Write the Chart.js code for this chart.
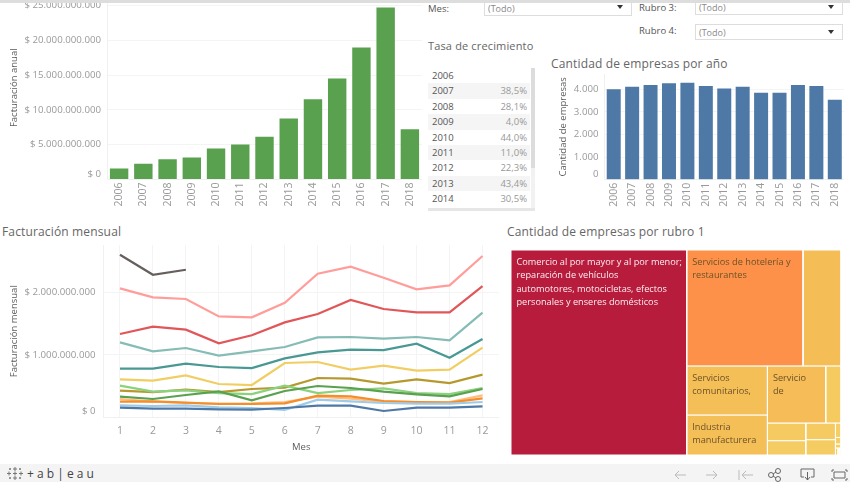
<!DOCTYPE html>
<html>
<head>
<meta charset="utf-8">
<script src="https://cdn.jsdelivr.net/npm/chart.js@4/dist/chart.umd.min.js"></script>
<style>
  html, body { margin: 0; padding: 0; background: #fff; overflow: hidden; }
  body { width: 850px; height: 482px; position: relative; font-family: 'Open Sans', sans-serif; }
  canvas, .abs { position: absolute; }
  .title { font-size: 12px; color: #666; white-space: nowrap; letter-spacing: .15px; }
  .flabel { font-size: 9.5px; color: #555; }
  .fbox { border: 1px solid #ddd; box-sizing: border-box; font-size: 9px; color: #888; padding-left: 3px; background: #fff; }
  .fbox::after { content: ''; position: absolute; right: 8px; top: 5px; border: 3px solid transparent; border-top: 4px solid #333; }
  #topband { left: 0; top: 0; width: 850px; height: 3px; background: #ddd; z-index: 3; }
  #tasa { left: 428px; top: 68px; width: 102px; font-size: 9.5px; }
  #tasa div { height: 15.4px; line-height: 15.4px; display: flex; justify-content: space-between; padding: 0 3px 0 4px; color: #555; }
  #tasa div:nth-child(even) { background: #f5f5f5; }
  #tasa span:last-child { color: #999; }
  #footer { left: 0; top: 464px; width: 850px; height: 18px; background: #f4f4f4; }
</style>
</head>
<body>
<div class="abs" id="topband"></div>

<div class="abs flabel" style="left:428px;top:2px">Mes:</div>
<div class="abs fbox" style="left:484px;top:-1px;width:148px;height:17px;line-height:17px">(Todo)</div>
<div class="abs flabel" style="left:639px;top:1px">Rubro 3:</div>
<div class="abs fbox" style="left:695px;top:-1px;width:148px;height:16px;line-height:16px">(Todo)</div>
<div class="abs flabel" style="left:639px;top:24px">Rubro 4:</div>
<div class="abs fbox" style="left:695px;top:24px;width:148px;height:16px;line-height:15px">(Todo)</div>

<div class="abs title" style="left:428px;top:38px;font-size:11px">Tasa de crecimiento</div>
<div class="abs title" style="left:551px;top:55px">Cantidad de empresas por año</div>
<div class="abs title" style="left:2px;top:223px">Facturación mensual</div>
<div class="abs title" style="left:507px;top:223px">Cantidad de empresas por rubro 1</div>

<div class="abs" id="tasa"></div>
<div class="abs" style="left:531px;top:68px;width:4px;height:142px;background:#f2f2f2"></div>
<div class="abs" style="left:531px;top:68px;width:4px;height:100px;background:#dcdcdc"></div>
<div class="abs" style="left:428px;top:208px;width:107px;height:3px;background:#e6e6e6"></div>

<canvas id="anualChart" width="422" height="219" style="left:0;top:-4px"></canvas>
<canvas id="empresasChart" width="294" height="141" style="left:550px;top:74px"></canvas>
<canvas id="mensualChart" width="499" height="215" style="left:0;top:245px"></canvas>
<canvas id="rubroChart" width="330" height="205" style="left:511px;top:250px"></canvas>

<div class="abs" id="footer">
  <svg class="abs" style="left:7px;top:2px" width="16" height="15" stroke="#777" stroke-width="1" fill="none">
    <path d="M8 1v4M6 3h4M8 10v4M6 12h4M2 5.500v4M0 7.500h4M14 5.500v4M12 7.500h4M8 5.500v4M6 7.500h4M3 2v2M2 3h2M13 2v2M12 3h2M3 11v2M2 12h2M13 11v2M12 12h2"/>
  </svg>
  <div class="abs" style="left:27px;top:1px;font-size:12px;color:#444;white-space:nowrap">+ a b | e a u</div>
  <svg class="abs" style="left:670px;top:0" width="178" height="18" fill="none" stroke="#bbb" stroke-width="1">
    <path d="M5 11h11M5 11l4-4M5 11l4 4"/>
    <path d="M36 11h11M47 11l-4-4M47 11l-4 4"/>
    <path d="M69 6v10M72 11h11M72 11l4-4M72 11l4 4"/>
    <g stroke="#666">
      <circle cx="101" cy="11" r="2.500"/><circle cx="108" cy="7" r="2.500"/><circle cx="108" cy="15" r="2.500"/>
      <path d="M103 10l3-2M103 12l3 2"/>
      <path d="M134 13h-3V5h13v8h-3M137.500 8v8M135 13l2.500 3 2.500-3"/>
      <path d="M164 6h-2v2M175 6h2v2M164 16h-2v-2M175 16h2v-2M164 8h11v6h-11z"/>
    </g>
  </svg>
</div>

<script>
Chart.defaults.font.family = "'Open Sans', sans-serif";
Chart.defaults.animation = false;
Chart.defaults.plugins.legend.display = false;
Chart.defaults.plugins.tooltip.enabled = false;

const YEARS = ['2006','2007','2008','2009','2010','2011','2012','2013','2014','2015','2016','2017','2018'];
const MONTHS = ['1','2','3','4','5','6','7','8','9','10','11','12'];

// millones de pesos
const ANUAL = [1580,2250,2920,3160,4450,5020,6120,8760,11530,14500,18950,24700,7220];
const ANUAL_TICKS = [0,5000,10000,15000,20000,25000];
const EMPRESAS = [4000,4118,4190,4265,4295,4148,4030,4118,3852,3852,4190,4148,3542];
const EMPRESAS_TICKS = [0,1000,2000,3000,4000];

const TASA_YEARS = ['2006','2007','2008','2009','2010','2011','2012','2013','2014'];
const TASA = ['','38,5%','28,1%','4,0%','44,0%','11,0%','22,3%','43,4%','30,5%'];

// facturacion mensual por año, en millones
const M2006 = [157,141,141,130,125,152,189,189,104,157,157,178];
const M2007 = [194,184,194,162,152,120,285,258,232,221,221,248];
const M2008 = [253,258,237,216,216,226,349,338,264,248,237,306];
const M2009 = [296,253,232,221,226,248,333,301,253,248,248,354];
const M2010 = [333,296,359,418,274,423,503,471,413,370,338,455];
const M2011 = [509,413,434,391,375,509,391,439,466,391,375,471];
const M2012 = [429,407,445,407,455,477,631,620,540,610,551,684];
const M2013 = [610,588,674,535,519,871,887,764,828,748,764,1116];
const M2014 = [780,780,860,807,790,945,1041,1084,1078,1179,956,1254];
const M2015 = [1200,1057,1110,988,1057,1126,1281,1286,1259,1286,1233,1675];
const M2016 = [1334,1451,1403,1185,1313,1520,1653,1877,1733,1680,1680,2100];
const M2017 = [2063,1920,1893,1616,1600,1834,2298,2410,2234,2047,2111,2580];
const M2018 = [2600,2280,2360];
const MENSUAL = [M2006,M2007,M2008,M2009,M2010,M2011,M2012,M2013,M2014,M2015,M2016,M2017,M2018];
const MENSUAL_COLORS = ['#4e79a7','#a0cbe8','#f28e2b','#ffbe7d','#59a14f','#8cd17d','#b6992d','#f1ce63','#499894','#86bcb6','#e15759','#ff9d9a','#665f5d'];
const MENSUAL_TICKS = [0,1000,2000];

const RUBRO_LABELS = [
  'Comercio al por mayor y al por menor;\nreparación de vehículos\nautomotores, motocicletas, efectos\npersonales y enseres domésticos',
  'Servicios de hotelería y\nrestaurantes', '', 'Servicios\ncomunitarios,', 'Industria\nmanufacturera', 'Servicio\nde',
  '', '', '', '', '', '', '', '', '', '', ''
];
const RUBRO_VALUES = [35966,13456,4396,3954,3226,3324,871,677,549,495,455,80,36,22,18,12,9];
const RUBRO_COLORS = ['#b71c3d','#fd9149','#f5bd56','#f5bf58','#f5bf58','#f5bc57','#f5cb60','#f5ca60','#f5cc62','#f5ca60','#f5cc62','#f5cf66','#f5cf66','#f5cf66','#f5cf66','#f5cf66','#f5cf66'];
// cuantos rectangulos entran en cada franja del treemap
const RUBRO_STRIPS = [1,2,2,2,2,2,1,1,1,3];

const money = v => '$ ' + String(Math.round(v * 1e6)).replace(/\B(?=(\d{3})+$)/g, '.');
const thousands = v => String(v).replace(/\B(?=(\d{3})+$)/g, '.');

document.getElementById('tasa').innerHTML = TASA_YEARS.map((y, i) => `<div><span>${y}</span><span>${TASA[i]}</span></div>`).join('');

/* tableau sube la etiqueta del cero para que no pise el eje */
const yLabels = {
  id: 'yLabels',
  afterDraw(chart, args, opts) {
    const s = chart.scales.y, ctx = chart.ctx;
    ctx.save();
    ctx.font = "9.7px 'Open Sans', sans-serif";
    ctx.fillStyle = '#999';
    ctx.textAlign = 'right';
    ctx.textBaseline = 'middle';
    s.ticks.forEach(t => {
      const y = s.getPixelForValue(t.value) - (t.value === 0 ? opts.zeroShift : 0);
      ctx.fillText(t.label, s.right - opts.gap, y);
    });
    ctx.restore();
  },
};

const axisY = (width, max, tickValues, cb, title, titlePad) => ({
  min: 0, max, bounds: 'data',
  afterFit: s => { s.width = width; },
  afterBuildTicks: s => { s.ticks = tickValues.map(value => ({ value })); },
  ticks: { display: false, callback: cb },
  grid: { color: '#f4f4f4', drawTicks: false },
  border: { color: '#f0f0f0' },
  title: { display: true, text: title, color: '#5c5c5c', font: { size: 9.5 }, padding: { top: titlePad, bottom: 0 } },
});

const barChart = (id, labels, values, color, yAxis, axisH, zeroShift, gap) => new Chart(document.getElementById(id), {
  type: 'bar',
  data: { labels, datasets: [{ data: values, backgroundColor: color, barPercentage: 1, categoryPercentage: 0.76 }] },
  options: {
    responsive: false,
    layout: { padding: 0 },
    scales: {
      x: {
        // sin esto las etiquetas rotadas le comen margen al area del grafico
        afterFit: s => { s.height = axisH; s.paddingLeft = 0; s.paddingRight = 0; },
        grid: { display: false, drawTicks: false },
        border: { color: '#f0f0f0' },
        ticks: { color: '#999', font: { size: 10.5 }, minRotation: 90, maxRotation: 90, padding: 3, autoSkip: false },
      },
      y: yAxis,
    },
    plugins: { yLabels: { zeroShift, gap } },
  },
  plugins: [yLabels],
});

/* ── Facturacion anual ── */
barChart('anualChart', YEARS, ANUAL, '#59a14f', axisY(107, 26343, ANUAL_TICKS, money, 'Facturación anual', 9), 35.5, 5.5, 6);

/* ── Empresas por año ── */
barChart('empresasChart', YEARS, EMPRESAS, '#4e79a7', axisY(54.5, 4677, EMPRESAS_TICKS, thousands, 'Cantidad de empresas', 8), 35.3, 5.5, 6);

/* ── Facturacion mensual ── */
new Chart(document.getElementById('mensualChart'), {
  type: 'line',
  data: {
    labels: MONTHS,
    datasets: MENSUAL.map((d, i) => ({
      data: d, borderColor: MENSUAL_COLORS[i], borderWidth: 2.2, pointRadius: 0, tension: 0, fill: false,
    })),
  },
  options: {
    responsive: false,
    layout: { padding: 0 },
    scales: {
      x: {
        offset: true,
        afterFit: s => { s.height = 42.5; s.paddingLeft = 0; s.paddingRight = 0; },
        grid: { color: '#f4f4f4', offset: false, drawTicks: false },
        border: { color: '#f0f0f0' },
        ticks: { color: '#999', font: { size: 10.5 }, padding: 7, maxRotation: 0, autoSkip: false },
        title: { display: true, text: 'Mes', color: '#5c5c5c', font: { size: 9.5 }, padding: { top: 6, bottom: 7 } },
      },
      y: axisY(103.5, 2756, MENSUAL_TICKS, money, 'Facturación mensual', 9),
    },
    plugins: { yLabels: { zeroShift: 6, gap: 8 } },
  },
  plugins: [yLabels],
});

/* ── Treemap: franjas alternadas sobre el lado corto ── */
const TM_W = 330, TM_H = 205;
function rubroCells() {
  const total = RUBRO_VALUES.reduce((a, b) => a + b, 0);
  const k = TM_W * TM_H / total;
  let x = 0, y = 0, w = TM_W, h = TM_H, i = 0;
  const cells = [];
  RUBRO_STRIPS.forEach(n => {
    const vals = RUBRO_VALUES.slice(i, i + n);
    const area = vals.reduce((a, b) => a + b, 0) * k;
    if (h <= w) {
      const sw = area / h;
      let cy = y;
      vals.forEach(v => { const ch = v * k / sw; cells.push({ x0: x, x1: x + sw, y0: cy, y1: cy + ch }); cy += ch; });
      x += sw; w -= sw;
    } else {
      const sh = area / w;
      let cx = x;
      vals.forEach(v => { const cw = v * k / sh; cells.push({ x0: cx, x1: cx + cw, y0: y, y1: y + sh }); cx += cw; });
      y += sh; h -= sh;
    }
    i += n;
  });
  return cells;
}
const CELLS = rubroCells();

const cellLabels = {
  id: 'cellLabels',
  afterDatasetsDraw(chart) {
    const { ctx, scales: { x, y } } = chart;
    ctx.save();
    ctx.font = "9.2px 'Open Sans', sans-serif";
    ctx.textBaseline = 'middle';
    CELLS.forEach((c, i) => {
      ctx.fillStyle = i === 0 ? '#fbeef0' : '#6b5228';
      RUBRO_LABELS[i].split('\n').forEach((line, j) => {
        ctx.fillText(line, x.getPixelForValue(c.x0) + 5.5, y.getPixelForValue(c.y0) + 12.5 + j * 13.2);
      });
    });
    ctx.restore();
  },
};

new Chart(document.getElementById('rubroChart'), {
  type: 'scatter',
  data: {
    datasets: CELLS.map((c, i) => ({
      data: [{ x: c.x0, y: c.y0 }, { x: c.x1, y: c.y0 }, { x: c.x1, y: c.y1 }, { x: c.x0, y: c.y1 }, { x: c.x0, y: c.y0 }],
      showLine: true, fill: 'shape', tension: 0, pointRadius: 0,
      backgroundColor: RUBRO_COLORS[i], borderColor: '#fff', borderWidth: 1,
    })),
  },
  options: {
    responsive: false,
    layout: { padding: 0 },
    scales: {
      x: { type: 'linear', display: false, min: 0, max: TM_W },
      y: { type: 'linear', display: false, min: 0, max: TM_H, reverse: true },
    },
  },
  plugins: [cellLabels],
});
</script>
</body>
</html>
